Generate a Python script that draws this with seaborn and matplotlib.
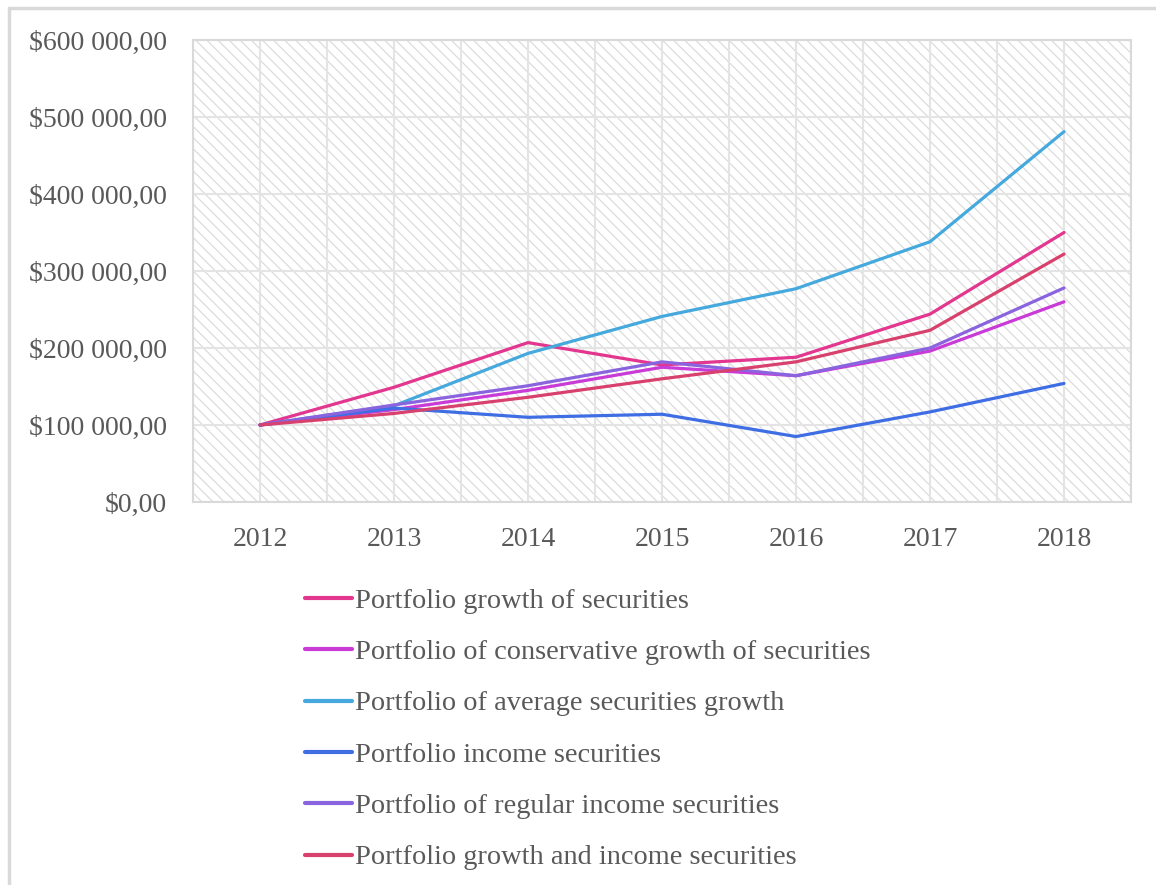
import matplotlib
matplotlib.use('Agg')
import matplotlib.pyplot as plt
import matplotlib.ticker as mticker
from matplotlib.patches import Rectangle
from matplotlib.lines import Line2D
import seaborn as sns
import pandas as pd
import numpy as np

# Chart data.
years = [2012, 2013, 2014, 2015, 2016, 2017, 2018]
growth = [100000, 149000, 207000, 178000, 188000, 244000, 350000]
conservative = [100000, 120000, 145000, 175000, 164000, 196000, 260000]
average = [100000, 125000, 193000, 241000, 277000, 338000, 481000]
income = [100000, 122000, 110000, 114000, 85000, 117000, 154000]
regular = [100000, 126000, 151000, 182000, 164000, 200000, 278000]
growth_income = [100000, 115000, 136000, 160000, 182000, 223000, 322000]

series_names = [
    'Portfolio growth of securities',
    'Portfolio of conservative growth of securities',
    'Portfolio of average securities growth',
    'Portfolio income securities',
    'Portfolio of regular income securities',
    'Portfolio growth and income securities',
]
series_values = [growth, conservative, average, income, regular, growth_income]
colors = ['#E3368F', '#C93AD6', '#45A9DD', '#3F6EE4', '#8A64DE', '#D8416D']

y_ticks = [0, 100000, 200000, 300000, 400000, 500000, 600000]

# Constants for plot formatting.
TEXT_COLOR = '#595959'
GRID_COLOR = '#e4e4e4'
FONT_SIZE = 20
LEGEND_FONT_SIZE = 20.4
LINEWIDTH = 2.3

sns.set_theme(style='white')
plt.rcParams['font.family'] = ['Liberation Serif', 'DejaVu Serif']
plt.rcParams['hatch.linewidth'] = 0.9

df = pd.DataFrame({
    'year': np.tile(years, len(series_names)),
    'value': np.concatenate(series_values),
    'series': np.repeat(series_names, len(years)),
})

fig = plt.figure(figsize=(11.56, 8.85), dpi=100)
ax = fig.add_axes([193 / 1156, 1 - 502 / 885, (1131 - 193) / 1156, (502 - 40) / 885])

# hatched plot area background
ax.add_patch(Rectangle((0, 0), 1, 1, transform=ax.transAxes, facecolor='white',
                       edgecolor='#dcdcdc', hatch='\\\\\\', linewidth=0, zorder=0))

sns.lineplot(data=df, x='year', y='value', hue='series', hue_order=series_names,
             palette=colors, linewidth=LINEWIDTH, ax=ax, legend=False, zorder=3)

ax.set_xlim(2011.5, 2018.5)
ax.set_ylim(0, 600000)
ax.set_xticks(years)
ax.set_xticks(np.arange(2011.5, 2019, 1.0), minor=True)
ax.set_yticks(y_ticks)
ax.yaxis.set_major_formatter(mticker.FuncFormatter(
    lambda v, p: '$' + f'{v:,.2f}'.replace(',', ' ').replace('.', ',')))

ax.grid(True, which='both', axis='x', color=GRID_COLOR, linewidth=1.5, zorder=1)
ax.grid(True, which='major', axis='y', color=GRID_COLOR, linewidth=1.5, zorder=1)
ax.set_axisbelow(True)
ax.tick_params(axis='both', which='both', length=0, labelsize=FONT_SIZE,
               labelcolor=TEXT_COLOR)
ax.tick_params(axis='y', pad=19)
ax.tick_params(axis='x', pad=18)
ax.set_xlabel('')
ax.set_ylabel('')
for side, spine in ax.spines.items():
    spine.set_color('#d9d9d9')
    spine.set_linewidth(1.5)

handles = [Line2D([], [], color=c, linewidth=3) for c in colors]
fig.legend(handles, series_names, loc='upper left',
           bbox_to_anchor=(305 / 1156, 1 - 588 / 885), frameon=False,
           fontsize=LEGEND_FONT_SIZE, labelcolor=TEXT_COLOR, handlelength=1.65,
           handletextpad=0.1, labelspacing=0.9, borderpad=0, borderaxespad=0)

# outer light frame
fig.add_artist(Line2D([9 / 1156, 9 / 1156], [0, 1 - 8 / 885], color='#d9d9d9', linewidth=2.5))
fig.add_artist(Line2D([9 / 1156, 1], [1 - 8 / 885, 1 - 8 / 885], color='#d9d9d9', linewidth=2.5))

fig.savefig('out.png', dpi=100)
